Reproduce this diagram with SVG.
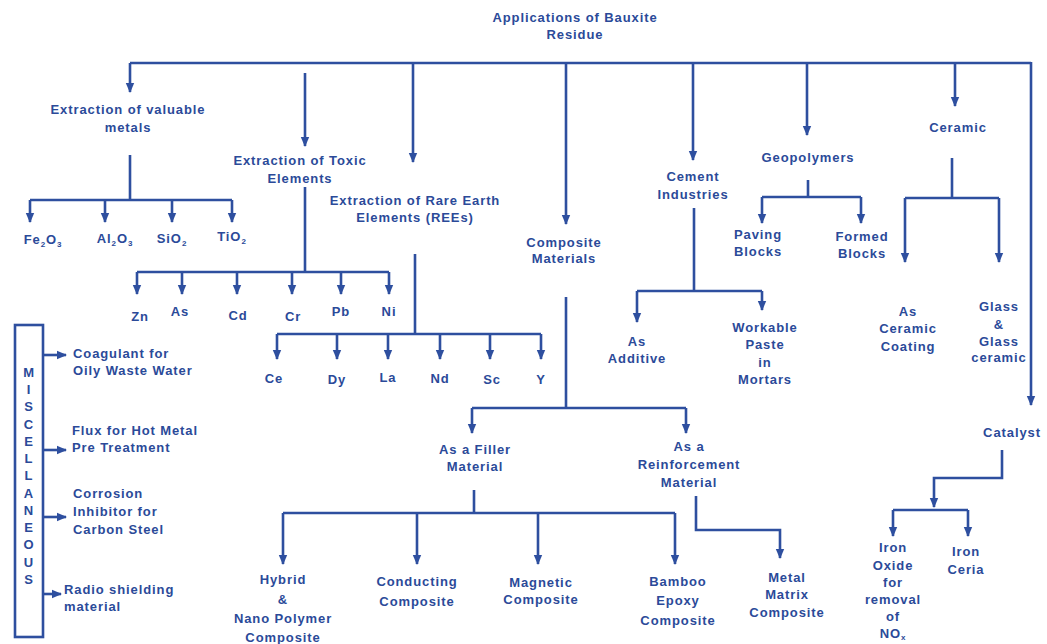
<svg xmlns="http://www.w3.org/2000/svg" width="1047" height="644" viewBox="0 0 1047 644">
<style>
text{font-family:"Liberation Sans",Arial,sans-serif;font-weight:bold;font-size:13px;fill:#2b4a99;text-anchor:middle;letter-spacing:0.9px}
.l{text-anchor:start}
.c line,.c path,.c polyline{stroke:#2e4f9f;stroke-width:2.6;fill:none}
.a{marker-end:url(#ah)}
.box{fill:none;stroke:#2e4f9f;stroke-width:2.6}
</style>
<defs>
<marker id="ah" markerUnits="userSpaceOnUse" markerWidth="10" markerHeight="10" viewBox="0 0 10 10" refX="9" refY="5" orient="auto">
<path d="M0,0.8 L10,5 L0,9.2 z" fill="#2e4f9f"/>
</marker>
</defs>
<rect width="1047" height="644" fill="#fff"/>
<g id="connectors" class="c">
<polyline points="130,63 1031,63"/>
<line class="a" x1="130" y1="63" x2="130" y2="92"/>
<line class="a" x1="305" y1="73" x2="305" y2="146"/>
<line class="a" x1="413" y1="63" x2="413" y2="162"/>
<line class="a" x1="566" y1="63" x2="566" y2="224"/>
<line class="a" x1="693" y1="63" x2="693" y2="160"/>
<line class="a" x1="807" y1="63" x2="807" y2="135"/>
<line class="a" x1="955" y1="63" x2="955" y2="106"/>
<line class="a" x1="1031" y1="62" x2="1031" y2="405"/>
<line x1="130" y1="155" x2="130" y2="200"/>
<line x1="30" y1="200" x2="232" y2="200"/>
<line class="a" x1="30" y1="200" x2="30" y2="222"/>
<line class="a" x1="105" y1="200" x2="105" y2="222"/>
<line class="a" x1="172" y1="200" x2="172" y2="222"/>
<line class="a" x1="232" y1="200" x2="232" y2="222"/>
<line x1="305" y1="187" x2="305" y2="272"/>
<line x1="137" y1="272" x2="389" y2="272"/>
<line class="a" x1="137" y1="272" x2="137" y2="294"/>
<line class="a" x1="182" y1="272" x2="182" y2="294"/>
<line class="a" x1="237" y1="272" x2="237" y2="294"/>
<line class="a" x1="292" y1="272" x2="292" y2="294"/>
<line class="a" x1="341" y1="272" x2="341" y2="294"/>
<line class="a" x1="389" y1="272" x2="389" y2="294"/>
<line x1="415" y1="254" x2="415" y2="334"/>
<line x1="277" y1="334" x2="541" y2="334"/>
<line class="a" x1="277" y1="334" x2="277" y2="359"/>
<line class="a" x1="337" y1="334" x2="337" y2="359"/>
<line class="a" x1="388" y1="334" x2="388" y2="359"/>
<line class="a" x1="440" y1="334" x2="440" y2="359"/>
<line class="a" x1="490" y1="334" x2="490" y2="359"/>
<line class="a" x1="541" y1="334" x2="541" y2="359"/>
<line x1="566" y1="297" x2="566" y2="408"/>
<line x1="472" y1="408" x2="686" y2="408"/>
<line class="a" x1="472" y1="408" x2="472" y2="433"/>
<line class="a" x1="686" y1="408" x2="686" y2="433"/>
<line x1="474" y1="490" x2="474" y2="513"/>
<line x1="283" y1="513" x2="675" y2="513"/>
<line class="a" x1="283" y1="513" x2="283" y2="564"/>
<line class="a" x1="417" y1="513" x2="417" y2="564"/>
<line class="a" x1="538" y1="513" x2="538" y2="564"/>
<line class="a" x1="675" y1="513" x2="675" y2="564"/>
<polyline class="a" points="696,496 696,530 780,530 780,558"/>
<line x1="694" y1="208" x2="694" y2="291"/>
<line x1="637" y1="291" x2="762" y2="291"/>
<line class="a" x1="637" y1="291" x2="637" y2="322"/>
<line class="a" x1="762" y1="291" x2="762" y2="310"/>
<line x1="808" y1="180" x2="808" y2="197"/>
<line x1="762" y1="197" x2="861" y2="197"/>
<line class="a" x1="762" y1="197" x2="762" y2="223"/>
<line class="a" x1="861" y1="197" x2="861" y2="223"/>
<line x1="952" y1="158" x2="952" y2="198"/>
<line x1="905" y1="198" x2="999" y2="198"/>
<line class="a" x1="905" y1="198" x2="905" y2="262"/>
<line class="a" x1="999" y1="198" x2="999" y2="262"/>
<polyline class="a" points="1002,450 1002,478 934,478 934,507"/>
<line x1="893" y1="510" x2="968" y2="510"/>
<line class="a" x1="893" y1="510" x2="893" y2="536"/>
<line class="a" x1="968" y1="510" x2="968" y2="536"/>
<line class="a" x1="43" y1="355" x2="66" y2="355"/>
<line class="a" x1="43" y1="450" x2="66" y2="450"/>
<line class="a" x1="43" y1="517" x2="66" y2="517"/>
<line class="a" x1="43" y1="594" x2="61" y2="594"/>
</g>
<g id="n-root"><text x="575" y="22">Applications  of Bauxite</text><text x="575" y="39">Residue</text></g>
<g id="n-valuable"><text x="128" y="114">Extraction of valuable</text><text x="128" y="132">metals</text></g>
<g id="n-fe2o3"><text x="43" y="244">Fe<tspan font-size="8" dy="3">2</tspan><tspan dy="-3">O</tspan><tspan font-size="8" dy="3">3</tspan></text></g>
<g id="n-al2o3"><text x="115" y="243">Al<tspan font-size="8" dy="3">2</tspan><tspan dy="-3">O</tspan><tspan font-size="8" dy="3">3</tspan></text></g>
<g id="n-sio2"><text x="172" y="243">SiO<tspan font-size="8" dy="3">2</tspan></text></g>
<g id="n-tio2"><text x="232" y="241">TiO<tspan font-size="8" dy="3">2</tspan></text></g>
<g id="n-toxic"><text x="300" y="165">Extraction of Toxic</text><text x="300" y="183">Elements</text></g>
<g id="n-zn"><text x="140" y="321">Zn</text></g>
<g id="n-as"><text x="180" y="316">As</text></g>
<g id="n-cd"><text x="238" y="320">Cd</text></g>
<g id="n-cr"><text x="293" y="321">Cr</text></g>
<g id="n-pb"><text x="341" y="316">Pb</text></g>
<g id="n-ni"><text x="389" y="316">Ni</text></g>
<g id="n-ree"><text x="415" y="205">Extraction of Rare Earth</text><text x="415" y="222">Elements (REEs)</text></g>
<g id="n-ce"><text x="274" y="383">Ce</text></g>
<g id="n-dy"><text x="337" y="384">Dy</text></g>
<g id="n-la"><text x="388" y="382">La</text></g>
<g id="n-nd"><text x="440" y="383">Nd</text></g>
<g id="n-sc"><text x="492" y="384">Sc</text></g>
<g id="n-y"><text x="541" y="384">Y</text></g>
<g id="n-composite"><text x="564" y="247">Composite</text><text x="564" y="263">Materials</text></g>
<g id="n-filler"><text x="475" y="454">As a Filler</text><text x="475" y="471">Material</text></g>
<g id="n-reinf"><text x="689" y="451">As a</text><text x="689" y="469">Reinforcement</text><text x="689" y="487">Material</text></g>
<g id="n-hybrid"><text x="283" y="584">Hybrid</text><text x="283" y="604">&amp;</text><text x="283" y="623">Nano Polymer</text><text x="283" y="642">Composite</text></g>
<g id="n-conducting"><text x="417" y="586">Conducting</text><text x="417" y="606">Composite</text></g>
<g id="n-magnetic"><text x="541" y="587">Magnetic</text><text x="541" y="604">Composite</text></g>
<g id="n-bamboo"><text x="678" y="586">Bamboo</text><text x="678" y="605">Epoxy</text><text x="678" y="625">Composite</text></g>
<g id="n-metal"><text x="787" y="582">Metal</text><text x="787" y="599">Matrix</text><text x="787" y="617">Composite</text></g>
<g id="n-cement"><text x="693" y="181">Cement</text><text x="693" y="199">Industries</text></g>
<g id="n-additive"><text x="637" y="346">As</text><text x="637" y="363">Additive</text></g>
<g id="n-workable"><text x="765" y="332">Workable</text><text x="765" y="349">Paste</text><text x="765" y="367">in</text><text x="765" y="384">Mortars</text></g>
<g id="n-geo"><text x="808" y="162">Geopolymers</text></g>
<g id="n-paving"><text x="758" y="239">Paving</text><text x="758" y="256">Blocks</text></g>
<g id="n-formed"><text x="862" y="241">Formed</text><text x="862" y="258">Blocks</text></g>
<g id="n-ceramic"><text x="958" y="132">Ceramic</text></g>
<g id="n-coating"><text x="908" y="316">As</text><text x="908" y="333">Ceramic</text><text x="908" y="351">Coating</text></g>
<g id="n-glass"><text x="999" y="311">Glass</text><text x="999" y="329">&amp;</text><text x="999" y="346">Glass</text><text x="999" y="362">ceramic</text></g>
<g id="n-catalyst"><text x="1012" y="437">Catalyst</text></g>
<g id="n-ironoxide"><text x="893" y="552">Iron</text><text x="893" y="570">Oxide</text><text x="893" y="587">for</text><text x="893" y="604">removal</text><text x="893" y="621">of</text><text x="893" y="638">NO<tspan font-size="8" dy="2">x</tspan></text></g>
<g id="n-ironceria"><text x="966" y="556">Iron</text><text x="966" y="574">Ceria</text></g>
<g id="n-misc">
<rect class="box" x="15" y="325" width="28" height="312"/>
<text x="29" y="377">M</text><text x="29" y="394">I</text><text x="29" y="411">S</text><text x="29" y="429">C</text><text x="29" y="446">E</text><text x="29" y="463">L</text><text x="29" y="480">L</text><text x="29" y="498">A</text><text x="29" y="515">N</text><text x="29" y="532">E</text><text x="29" y="549">O</text><text x="29" y="567">U</text><text x="29" y="584">S</text>
</g>
<g id="n-coagulant"><text class="l" x="73" y="358">Coagulant for</text><text class="l" x="73" y="375">Oily Waste Water</text></g>
<g id="n-flux"><text class="l" x="72" y="435">Flux for Hot Metal</text><text class="l" x="72" y="452">Pre Treatment</text></g>
<g id="n-corrosion"><text class="l" x="73" y="498">Corrosion</text><text class="l" x="73" y="516">Inhibitor for</text><text class="l" x="73" y="534">Carbon Steel</text></g>
<g id="n-radio"><text class="l" x="64" y="594">Radio shielding</text><text class="l" x="64" y="611">material</text></g>
</svg>
